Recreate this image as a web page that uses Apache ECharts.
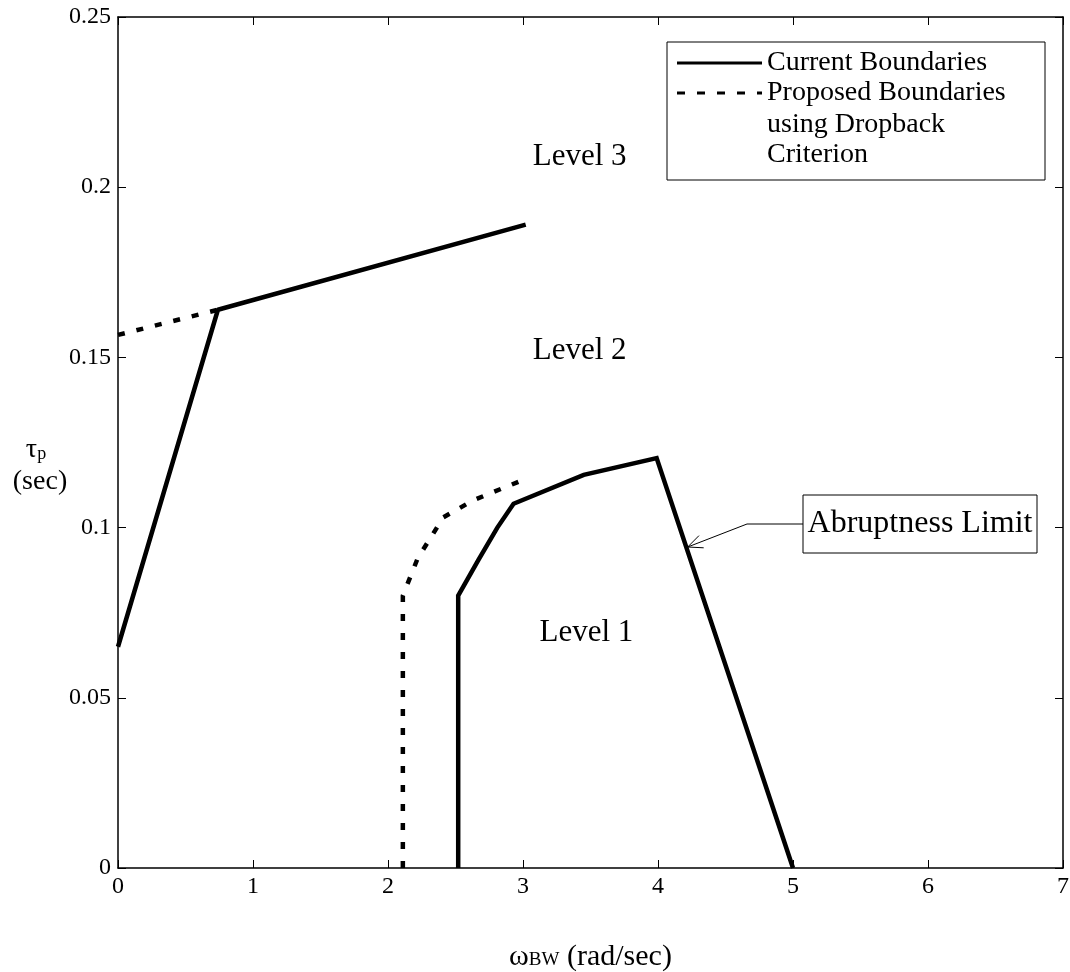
<!DOCTYPE html>
<html>
<head>
<meta charset="utf-8">
<script src="https://cdn.jsdelivr.net/npm/echarts@6/dist/echarts.min.js"></script>
<style>
  html, body { margin: 0; padding: 0; background: #fff; }
  #chart { width: 1070px; height: 972px; }
</style>
</head>
<body>
<div id="chart"></div>
<script>
// boundary lines: [omega_BW, tau_p]
var currentUpper = [[0, 0.065], [0.74, 0.164], [3.02, 0.189]];
var proposedUpper = [[0, 0.1566], [0.74, 0.164]];
var currentLower = [[2.52, 0], [2.52, 0.080], [2.67, 0.0905], [2.81, 0.100], [2.93, 0.107], [3.45, 0.1155], [3.99, 0.1204], [5.0, 0]];
var proposedLower = [[2.11, 0], [2.11, 0.080], [2.22, 0.091], [2.41, 0.103], [2.63, 0.108], [3.0, 0.114]];

var levelNames = ['Level 3', 'Level 2', 'Level 1'];
var levelPos = [[3.42, 0.209], [3.42, 0.152], [3.47, 0.069]];

var legendNames = ['Current Boundaries', 'Proposed Boundaries', 'using Dropback', 'Criterion'];
var abruptText = 'Abruptness Limit';
var abruptTarget = [4.22, 0.0943];

var FONT = '"Liberation Serif", "Times New Roman", serif';

var chartDom = document.getElementById('chart');
var myChart = echarts.init(chartDom);
var option;

var axisCommon = {
  axisLine: { show: true, onZero: false, lineStyle: { color: '#000', width: 1.5 } },
  axisTick: { show: true, inside: true, length: 8, lineStyle: { color: '#000', width: 1 } },
  splitLine: { show: false }
};

option = {
  animation: false,
  backgroundColor: '#fff',
  grid: { left: 118, right: 7, top: 17, bottom: 104, containLabel: false, outerBoundsMode: 'none' },
  xAxis: [
    Object.assign({
      type: 'value', position: 'bottom', min: 0, max: 7, interval: 1,
      axisLabel: { color: '#000', fontFamily: FONT, fontSize: 24, margin: 7 },
      name: '{w|ω}{b|BW}{r| (rad/sec)}',
      nameLocation: 'middle',
      nameGap: 74,
      nameTextStyle: {
        color: '#000',
        rich: {
          w: { fontFamily: FONT, fontSize: 30, color: '#000' },
          b: { fontFamily: FONT, fontSize: 19, color: '#000', padding: [6, 0, 0, 0] },
          r: { fontFamily: FONT, fontSize: 30, color: '#000' }
        }
      }
    }, axisCommon),
    Object.assign({
      type: 'value', position: 'top', min: 0, max: 7, interval: 1,
      axisLabel: { show: false }
    }, axisCommon)
  ],
  yAxis: [
    Object.assign({
      type: 'value', position: 'left', min: 0, max: 0.25, interval: 0.05,
      axisLabel: { color: '#000', fontFamily: FONT, fontSize: 24, margin: 7 }
    }, axisCommon),
    Object.assign({
      type: 'value', position: 'right', min: 0, max: 0.25, interval: 0.05,
      axisLabel: { show: false }
    }, axisCommon)
  ],
  series: [
    {
      name: 'Current Boundaries',
      type: 'line', data: currentUpper, symbol: 'none',
      lineStyle: { color: '#000', width: 4.5 }
    },
    {
      name: 'Current Boundaries',
      type: 'line', data: currentLower, symbol: 'none',
      lineStyle: { color: '#000', width: 4.5, join: 'miter' }
    },
    {
      name: 'Proposed Boundaries',
      type: 'line', data: proposedUpper, symbol: 'none',
      lineStyle: { color: '#000', width: 4.5, type: [7, 12] }
    },
    {
      name: 'Proposed Boundaries',
      type: 'line', data: proposedLower, symbol: 'none',
      lineStyle: { color: '#000', width: 4.5, type: [7, 12] }
    },
    {
      name: 'levels',
      type: 'scatter',
      symbolSize: 0,
      itemStyle: { color: '#000' },
      data: levelPos.map(function (p, i) { return { value: p, name: levelNames[i] }; }),
      label: {
        show: true, position: 'inside', formatter: '{b}',
        color: '#000', opacity: 1, fontFamily: FONT, fontSize: 31
      }
    }
  ]
};

option && myChart.setOption(option);

// legend box and the "Abruptness Limit" callout
var tip = myChart.convertToPixel({ xAxisIndex: 0, yAxisIndex: 0 }, abruptTarget);
var elbow = [747, 524];
var ang = Math.atan2(elbow[1] - tip[1], elbow[0] - tip[0]);
var headLen = 16, headSpread = 0.42;
var h1 = [tip[0] + headLen * Math.cos(ang + headSpread), tip[1] + headLen * Math.sin(ang + headSpread)];
var h2 = [tip[0] + headLen * Math.cos(ang - headSpread), tip[1] + headLen * Math.sin(ang - headSpread)];

var legendText = function (txt, y) {
  return {
    type: 'text', x: 767, y: y,
    style: { text: txt, fontFamily: FONT, fontSize: 28, fill: '#000', textVerticalAlign: 'middle' }
  };
};

myChart.setOption({
  graphic: [
    {
      type: 'rect', shape: { x: 667, y: 42, width: 378, height: 138 },
      style: { fill: '#fff', stroke: '#000', lineWidth: 1 }
    },
    {
      type: 'line', shape: { x1: 677, y1: 63, x2: 762, y2: 63 },
      style: { stroke: '#000', lineWidth: 3 }
    },
    {
      type: 'line', shape: { x1: 677, y1: 93, x2: 762, y2: 93 },
      style: { stroke: '#000', lineWidth: 3, lineDash: [8, 12] }
    },
    legendText(legendNames[0], 63),
    legendText(legendNames[1], 93),
    legendText(legendNames[2], 125),
    legendText(legendNames[3], 155),
    {
      type: 'rect', shape: { x: 803, y: 495, width: 234, height: 58 },
      style: { fill: '#fff', stroke: '#000', lineWidth: 1 }
    },
    {
      type: 'text', x: 920, y: 524,
      style: {
        text: abruptText, fontFamily: FONT, fontSize: 32, fill: '#000',
        textAlign: 'center', textVerticalAlign: 'middle'
      }
    },
    {
      type: 'polyline', shape: { points: [[803, 524], elbow, tip] },
      style: { stroke: '#000', lineWidth: 1, fill: null }
    },
    {
      type: 'polyline', shape: { points: [h1, tip, h2] },
      style: { stroke: '#000', lineWidth: 1, fill: null }
    },
    {
      type: 'text', x: 36, y: 450,
      style: {
        text: '{t|τ}{s|p}', textAlign: 'center', textVerticalAlign: 'middle',
        rich: {
          t: { fontFamily: FONT, fontSize: 28, fill: '#000' },
          s: { fontFamily: FONT, fontSize: 18, fill: '#000', padding: [8, 0, 0, 0] }
        }
      }
    },
    {
      type: 'text', x: 40, y: 482,
      style: {
        text: '(sec)', fontFamily: FONT, fontSize: 28, fill: '#000',
        textAlign: 'center', textVerticalAlign: 'middle'
      }
    }
  ]
});
</script>
</body>
</html>
